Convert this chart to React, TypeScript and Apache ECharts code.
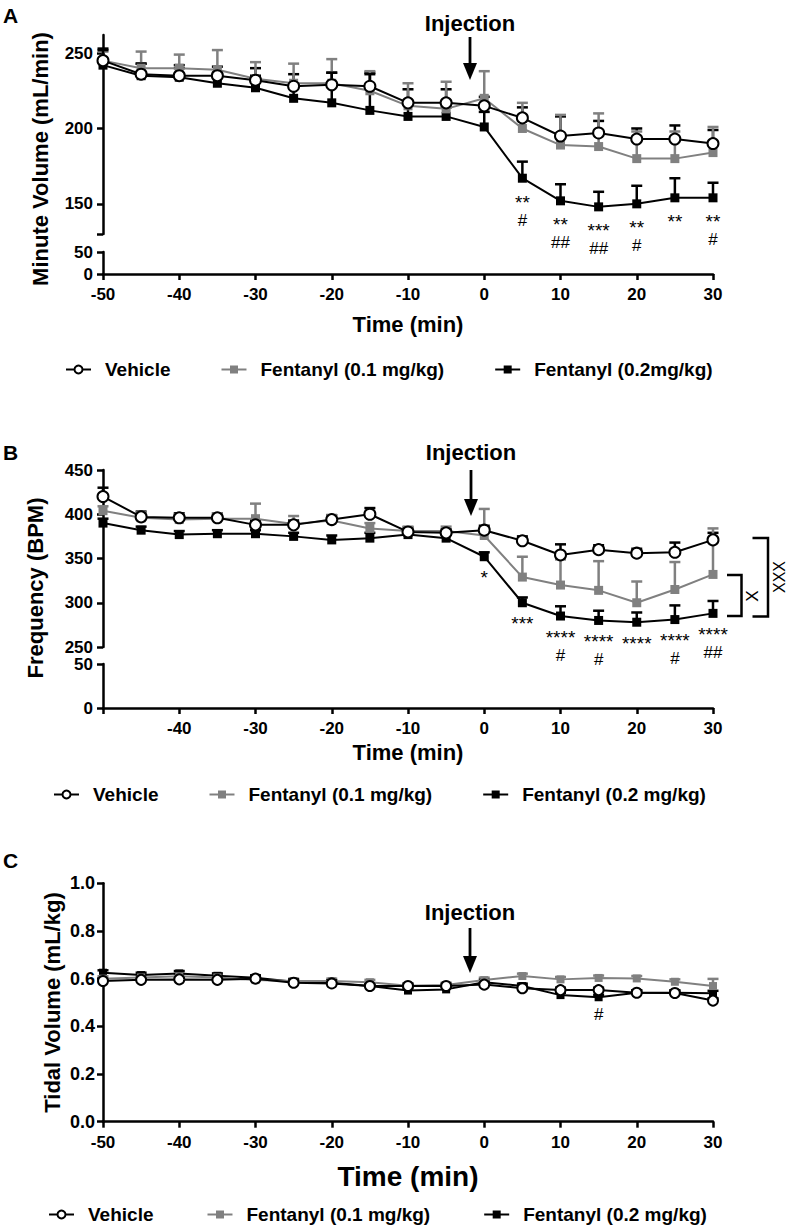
import React, { useEffect, useRef } from 'react';
import * as echarts from 'echarts';

// ---------- data ----------
const times = [-50, -45, -40, -35, -30, -25, -20, -15, -10, -5, 0, 5, 10, 15, 20, 25, 30];

// Panel A: Minute Volume (mL/min)
const mvVehicle = [245, 236, 235, 235, 232, 228, 229, 228, 217, 217, 215, 207, 195, 197, 193, 193, 190];
const mvVehicleErr = [8, 7, 7, 6, 8, 8, 8, 9, 9, 9, 6, 7, 13, 8, 7, 9, 9];
const mvF01 = [245, 240, 240, 239, 233, 230, 230, 225, 215, 213, 220, 200, 189, 188, 180, 180, 184];
const mvF01Err = [6, 11, 9, 13, 11, 13, 16, 13, 15, 18, 18, 17, 20, 22, 18, 18, 17];
const mvF02 = [242, 235, 234, 230, 227, 220, 217, 212, 208, 208, 201, 167, 152, 148, 150, 154, 154];
const mvF02Err = [10, 8, 6, 7, 8, 9, 20, 24, 9, 6, 10, 11, 11, 10, 12, 13, 10];
const mvAnnX = [5, 10, 15, 20, 25, 30];
const mvAnnStars = ['**', '**', '***', '**', '**', '**'];
const mvAnnHash = ['#', '##', '##', '#', '', '#'];

// Panel B: Frequency (BPM)
const fVehicle = [420, 397, 396, 396, 388, 388, 394, 400, 380, 379, 382, 370, 354, 360, 356, 357, 371];
const fVehicleErr = [10, 6, 5, 5, 5, 5, 5, 7, 5, 4, 5, 5, 12, 5, 5, 11, 8];
const fF01 = [404, 396, 394, 395, 395, 389, 393, 384, 381, 381, 376, 329, 320, 314, 300, 315, 332];
const fF01Err = [5, 6, 6, 6, 17, 9, 6, 6, 5, 5, 30, 23, 29, 33, 24, 31, 52];
const fF02 = [390, 382, 377, 378, 378, 375, 371, 373, 377, 373, 352, 300, 285, 280, 278, 281, 288];
const fF02Err = [5, 4, 4, 4, 4, 4, 5, 6, 5, 4, 5, 6, 11, 11, 11, 16, 14];
const fAnnX = [0, 5, 10, 15, 20, 25, 30];
const fAnnStars = ['*', '***', '****', '****', '****', '****', '****'];
const fAnnHash = ['', '', '#', '#', '', '#', '##'];

// Panel C: Tidal Volume (mL/kg)
const tvVehicle = [0.59, 0.595, 0.597, 0.595, 0.6, 0.583, 0.58, 0.569, 0.569, 0.569, 0.575, 0.56, 0.552, 0.552, 0.541, 0.54, 0.508];
const tvVehicleErr = [0.01, 0.01, 0.01, 0.01, 0.01, 0.01, 0.01, 0.01, 0.01, 0.01, 0.01, 0.01, 0.01, 0.01, 0.01, 0.01, 0.01];
const tvF01 = [0.6, 0.605, 0.61, 0.605, 0.594, 0.59, 0.59, 0.585, 0.57, 0.573, 0.594, 0.611, 0.597, 0.603, 0.601, 0.587, 0.569];
const tvF01Err = [0.01, 0.01, 0.01, 0.01, 0.01, 0.01, 0.01, 0.01, 0.01, 0.01, 0.01, 0.01, 0.01, 0.01, 0.01, 0.01, 0.03];
const tvF02 = [0.625, 0.615, 0.622, 0.612, 0.604, 0.587, 0.583, 0.569, 0.55, 0.555, 0.585, 0.569, 0.531, 0.522, 0.541, 0.541, 0.539];
const tvF02Err = [0.01, 0.01, 0.01, 0.01, 0.01, 0.01, 0.01, 0.01, 0.01, 0.01, 0.01, 0.01, 0.01, 0.01, 0.01, 0.01, 0.01];
const tvAnnX = [15];
const tvAnnStars = [''];
const tvAnnHash = ['#'];

const nameVeh = 'Vehicle';
const nameF01 = 'Fentanyl (0.1 mg/kg)';
const nameF02A = 'Fentanyl (0.2mg/kg)';
const nameF02 = 'Fentanyl (0.2 mg/kg)';

// ---------- styling helpers ----------
const FONT = "'Liberation Sans', Arial, Helvetica, sans-serif";
const GRAY = '#808080';
const AX_W = 2.5;

type Kind = 'veh' | 'f1' | 'f2';

const lineSeries = (name: string, ys: number[], kind: Kind, axis: number, size: number) => {
  const color = kind === 'f1' ? GRAY : '#000';
  return {
    type: 'line',
    name,
    xAxisIndex: axis,
    yAxisIndex: axis,
    data: times.map((t, i) => [t, ys[i]]),
    symbol: kind === 'veh' ? 'emptyCircle' : 'rect',
    symbolSize: kind === 'veh' ? size + 1 : size,
    itemStyle: kind === 'veh' ? { color: '#000', borderWidth: 2.5 } : { color },
    lineStyle: { color, width: 2 },
    emphasis: { disabled: true },
    z: kind === 'veh' ? 5 : kind === 'f1' ? 4 : 3,
  };
};

const errSeries = (ys: number[], errs: number[], kind: Kind, axis: number) => {
  const color = kind === 'f1' ? GRAY : '#000';
  return {
    type: 'custom',
    xAxisIndex: axis,
    yAxisIndex: axis,
    silent: true,
    z: 2,
    data: times.map((t, i) => [t, ys[i], errs[i]]),
    encode: { x: 0, y: 1 },
    renderItem: (_params: any, api: any) => {
      const x = api.value(0);
      const y = api.value(1);
      const e = api.value(2);
      const p0 = api.coord([x, y]);
      const p1 = api.coord([x, y + e]);
      return {
        type: 'group',
        children: [
          { type: 'line', shape: { x1: p0[0], y1: p0[1], x2: p1[0], y2: p1[1] }, style: { stroke: color, lineWidth: 2.5 } },
          { type: 'line', shape: { x1: p1[0] - 5.5, y1: p1[1], x2: p1[0] + 5.5, y2: p1[1] }, style: { stroke: color, lineWidth: 2.5 } },
        ],
      };
    },
  };
};

const annSeries = (
  xs: number[], ys: number[], stars: string[], hashes: string[], axis: number, starOff: number, hashOff: number
) => ({
  type: 'custom',
  xAxisIndex: axis,
  yAxisIndex: axis,
  silent: true,
  z: 6,
  data: xs.map((x) => [x, ys[times.indexOf(x)]]),
  encode: { x: 0, y: 1 },
  renderItem: (params: any, api: any) => {
    const i = params.dataIndex;
    const p = api.coord([api.value(0), api.value(1)]);
    const children: any[] = [];
    if (stars[i]) {
      children.push({
        type: 'text', x: p[0], y: p[1] + starOff,
        style: { text: stars[i], fill: '#000', font: `19px ${FONT}`, align: 'center', verticalAlign: 'middle' },
      });
    }
    if (hashes[i]) {
      children.push({
        type: 'text', x: p[0], y: p[1] + hashOff,
        style: { text: hashes[i], fill: '#000', font: `17px ${FONT}`, align: 'center', verticalAlign: 'middle' },
      });
    }
    return { type: 'group', children };
  },
});

const tickLabel = (size: number, margin: number) => ({
  color: '#000', fontFamily: FONT, fontWeight: 'bold' as const, fontSize: size, margin,
});

const xAxis = (grid: number, show: boolean, hideFirst: boolean, title: string, titleSize: number, titleGap: number) => ({
  type: 'value',
  gridIndex: grid,
  min: -50,
  max: 30,
  interval: 10,
  show,
  axisLine: { onZero: false, lineStyle: { color: '#000', width: AX_W } },
  axisTick: { inside: false, length: 6, lineStyle: { color: '#000', width: AX_W } },
  axisLabel: {
    ...tickLabel(17, 12),
    formatter: (v: number) => (hideFirst && v === -50 ? '' : String(v)),
  },
  splitLine: { show: false },
  name: title,
  nameLocation: 'middle',
  nameGap: titleGap,
  nameTextStyle: { color: '#000', fontFamily: FONT, fontWeight: 'bold', fontSize: titleSize },
});

const yAxisBase = (grid: number, min: number, max: number, labelSize: number, margin: number) => ({
  type: 'value',
  gridIndex: grid,
  min,
  max,
  axisLine: { show: true, onZero: false, lineStyle: { color: '#000', width: AX_W } },
  axisTick: { show: true, inside: false, length: 6, lineStyle: { color: '#000', width: AX_W } },
  axisLabel: tickLabel(labelSize, margin),
  splitLine: { show: false },
});

const legendCfg = (names: string[], left: number, top: number, gap: number) => ({
  data: names,
  left,
  top,
  padding: 0,
  orient: 'horizontal',
  itemWidth: 25,
  itemHeight: 10,
  itemGap: gap,
  selectedMode: false,
  textStyle: { color: '#000', fontFamily: FONT, fontWeight: 'bold', fontSize: 19, padding: [0, 0, 0, 9] },
});

const arrow = (x: number, top: number, tip: number) => [
  { type: 'line', shape: { x1: x, y1: top, x2: x, y2: tip - 14 }, style: { stroke: '#000', lineWidth: 2.8 } },
  { type: 'polygon', shape: { points: [[x - 7, tip - 17], [x + 7, tip - 17], [x, tip]] }, style: { fill: '#000' } },
];

const injText = (x: number, y: number) => ({
  type: 'text', x, y,
  style: { text: 'Injection', fill: '#000', font: `bold 22px ${FONT}`, align: 'center', verticalAlign: 'middle' },
});

const panelLetter = (t: string, y: number) => ({
  type: 'text', x: 3, y,
  style: { text: t, fill: '#000', font: `bold 21px ${FONT}`, align: 'left', verticalAlign: 'middle' },
});

const yTitle = (t: string, x: number, y: number) => ({
  type: 'text', x, y, rotation: Math.PI / 2,
  style: { text: t, fill: '#000', font: `bold 22px ${FONT}`, align: 'center', verticalAlign: 'middle' },
});

export default function App() {
  const ref = useRef<HTMLDivElement>(null);

  useEffect(() => {
    document.body.style.margin = '0';
    if (!ref.current) return;
    const chart = echarts.init(ref.current, undefined, { renderer: 'svg' });

    const grids = [
      { left: 103, width: 610, top: 35, height: 199 }, // A upper
      { left: 103, width: 610, top: 252, height: 22 }, // A lower
      { left: 103, width: 610, top: 470, height: 177 }, // B upper
      { left: 103, width: 610, top: 664, height: 44 }, // B lower
      { left: 103, width: 610, top: 883.3, height: 238.4 }, // C
    ].map((g) => ({ ...g, containLabel: false, outerBoundsMode: 'none', show: false }));

    const yAUp: any = yAxisBase(0, 130, 262, 17, 10);
    yAUp.axisTick = { ...yAUp.axisTick, customValues: [130, 150, 200, 250] };
    yAUp.axisLabel = { ...yAUp.axisLabel, customValues: [150, 200, 250] };
    const yALow: any = { ...yAxisBase(1, 0, 50, 17, 10), interval: 50 };
    const yBUp: any = { ...yAxisBase(2, 250, 450, 17, 10), interval: 50 };
    const yBLow: any = { ...yAxisBase(3, 0, 50, 17, 10), interval: 50 };
    const yC: any = yAxisBase(4, 0, 1, 18, 8);
    yC.interval = 0.2;
    yC.axisLabel = { ...yC.axisLabel, formatter: (v: number) => v.toFixed(1) };

    const option: any = {
      animation: false,
      backgroundColor: '#fff',
      grid: grids,
      xAxis: [
        xAxis(0, false, false, '', 22, 0),
        xAxis(1, true, false, 'Time (min)', 22, 39),
        xAxis(2, false, false, '', 22, 0),
        xAxis(3, true, true, 'Time (min)', 22, 33),
        xAxis(4, true, false, 'Time (min)', 28, 41),
      ],
      yAxis: [yAUp, yALow, yBUp, yBLow, yC],
      legend: [
        legendCfg([nameVeh, nameF01, nameF02A], 65, 360, 50),
        legendCfg([nameVeh, nameF01, nameF02], 53, 785, 50),
        legendCfg([nameVeh, nameF01, nameF02], 48, 1205, 53),
      ],
      series: [
        // Panel A
        errSeries(mvVehicle, mvVehicleErr, 'veh', 0),
        errSeries(mvF01, mvF01Err, 'f1', 0),
        errSeries(mvF02, mvF02Err, 'f2', 0),
        lineSeries(nameVeh, mvVehicle, 'veh', 0, 10),
        lineSeries(nameF01, mvF01, 'f1', 0, 9),
        lineSeries(nameF02A, mvF02, 'f2', 0, 9),
        annSeries(mvAnnX, mvF02, mvAnnStars, mvAnnHash, 0, 24, 42),
        // Panel B
        errSeries(fVehicle, fVehicleErr, 'veh', 2),
        errSeries(fF01, fF01Err, 'f1', 2),
        errSeries(fF02, fF02Err, 'f2', 2),
        lineSeries(nameVeh, fVehicle, 'veh', 2, 10),
        lineSeries(nameF01, fF01, 'f1', 2, 9),
        lineSeries(nameF02, fF02, 'f2', 2, 9),
        annSeries(fAnnX, fF02, fAnnStars, fAnnHash, 2, 21, 39),
        // Panel C
        errSeries(tvVehicle, tvVehicleErr, 'veh', 4),
        errSeries(tvF01, tvF01Err, 'f1', 4),
        errSeries(tvF02, tvF02Err, 'f2', 4),
        lineSeries(nameVeh, tvVehicle, 'veh', 4, 9),
        lineSeries(nameF01, tvF01, 'f1', 4, 8),
        lineSeries(nameF02, tvF02, 'f2', 4, 8),
        annSeries(tvAnnX, tvF02, tvAnnStars, tvAnnHash, 4, 0, 17),
      ],
      graphic: [
        panelLetter('A', 15),
        panelLetter('B', 452),
        panelLetter('C', 860),
        yTitle('Minute Volume (mL/min)', 40, 159),
        yTitle('Frequency (BPM)', 35, 588),
        yTitle('Tidal Volume (mL/kg)', 52.5, 1002.5),
        injText(470, 23),
        injText(471, 452),
        injText(470, 912),
        ...arrow(470, 37, 80),
        ...arrow(471, 470, 516),
        ...arrow(470, 928, 973),
        // comparison brackets (panel B)
        { type: 'polyline', shape: { points: [[727, 575], [741.5, 575], [741.5, 616], [727, 616]] }, style: { stroke: '#000', lineWidth: 2.5, fill: null } },
        { type: 'polyline', shape: { points: [[752.5, 538], [768, 538], [768, 616.5], [752.5, 616.5]] }, style: { stroke: '#000', lineWidth: 2.5, fill: null } },
        { type: 'text', x: 752, y: 596, rotation: Math.PI / 2, style: { text: 'X', fill: '#000', font: `17px ${FONT}`, align: 'center', verticalAlign: 'middle' } },
        { type: 'text', x: 779, y: 577, rotation: Math.PI / 2, style: { text: 'XXX', fill: '#000', font: `16px ${FONT}`, align: 'center', verticalAlign: 'middle' } },
      ],
    };

    chart.setOption(option);
    return () => chart.dispose();
  }, []);

  return (
    <div
      ref={ref}
      style={{ position: 'absolute', left: 0, top: 0, width: 788, height: 1227, background: '#fff' }}
    />
  );
}
